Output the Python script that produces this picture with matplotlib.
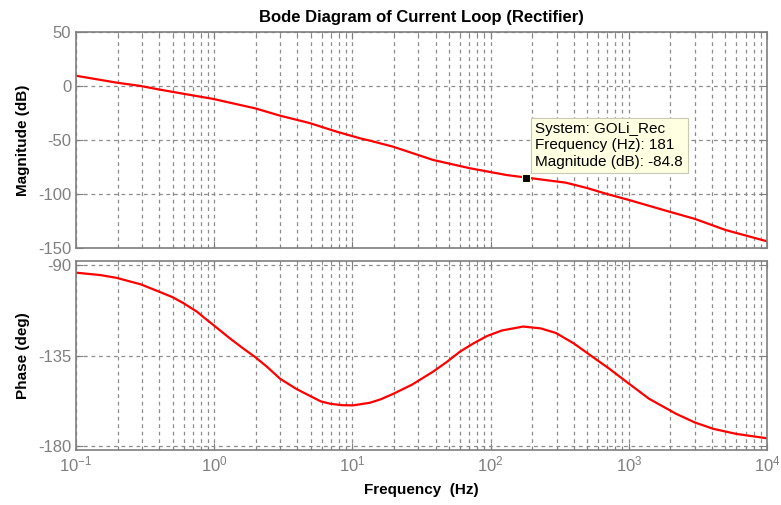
import matplotlib.pyplot as plt
from matplotlib.ticker import LogLocator, NullFormatter

plt.rcParams['font.family'] = ['Liberation Sans', 'DejaVu Sans']
plt.rcParams['mathtext.fontset'] = 'custom'
plt.rcParams['mathtext.rm'] = 'Liberation Sans'
plt.rcParams['mathtext.it'] = 'Liberation Sans:italic'
plt.rcParams['mathtext.bf'] = 'Liberation Sans:bold'
plt.rcParams['axes.unicode_minus'] = False

# values
mag_freq = [0.1, 0.197, 0.294, 0.394, 0.6, 0.985, 1.98, 3.0, 4.9, 7.7, 11.4, 13.4, 19.7,
            38.4, 71.0, 130.0, 181.0, 350.0, 500.0, 695.0, 1000.0, 1970.0, 3000.0,
            5000.0, 9600.0, 10000.0]
mag_db = [9.5, 3.1, 0.0, -3.1, -7.2, -12.0, -20.7, -27.5, -34.3, -42.3, -48.5, -50.6, -56.2,
          -68.5, -76.2, -82.4, -84.8, -89.5, -94.5, -100.0, -105.5, -116.4, -123.0,
          -133.3, -143.2, -143.5]

ph_freq = [0.1, 0.15, 0.197, 0.294, 0.394, 0.5, 0.6, 0.75, 0.85, 0.985, 1.3, 1.6, 1.98,
           2.4, 2.99, 3.9, 4.9, 5.9, 6.9, 8.4, 10.1, 13.4, 16.0, 19.7, 27.0, 38.4, 48.0,
           60.0, 75.0, 93.7, 120.0, 172.0, 230.0, 297.0, 400.0, 550.0, 720.0, 950.0,
           1400.0, 2200.0, 3000.0, 4100.0, 6000.0, 9600.0, 10000.0]
ph_deg = [-93.8, -95.0, -96.4, -99.6, -103.1, -106.0, -109.0, -113.2, -116.3, -119.8,
          -126.5, -131.2, -135.8, -140.5, -146.5, -151.5, -155.0, -157.8, -159.0, -159.7,
          -159.8, -158.5, -156.8, -154.1, -149.5, -143.0, -138.3, -133.1, -129.0, -125.4,
          -122.6, -120.6, -121.5, -123.8, -129.0, -135.8, -141.5, -147.8, -156.5, -164.0,
          -168.3, -171.5, -174.0, -176.0, -176.2]

tip_freq = 181
tip_mag = -84.8

mag_ticks = [-150, -100, -50, 0, 50]
ph_ticks = [-180, -135, -90]

fig = plt.figure(figsize=(7.81, 5.05), dpi=100)
ax1 = fig.add_axes([76 / 781, 1 - 248 / 505, 691 / 781, 216 / 505])
ax2 = fig.add_axes([76 / 781, 1 - 450 / 505, 691 / 781, 189 / 505])

grey = '#7f7f7f'
for ax in (ax1, ax2):
    ax.set_xscale('log')
    ax.set_xlim(0.1, 1e4)
    ax.xaxis.set_major_locator(LogLocator(base=10, numticks=20))
    ax.xaxis.set_minor_locator(LogLocator(base=10, subs=range(2, 10), numticks=20))
    ax.xaxis.set_minor_formatter(NullFormatter())
    ax.grid(True, which='both', axis='x', linestyle=(0, (3, 3)), color='#8c8c8c', linewidth=0.9)
    ax.grid(True, which='major', axis='y', linestyle=(0, (3, 3)), color='#8c8c8c', linewidth=0.9)
    ax.tick_params(which='both', direction='in', top=True, right=True, colors=grey,
                   labelsize=12, labelcolor=grey)
    ax.tick_params(which='major', length=5)
    ax.tick_params(which='minor', length=3)
    for s in ax.spines.values():
        s.set_color(grey)
        s.set_linewidth(1.2)

ax1.plot(mag_freq, mag_db, color='red', linewidth=1.6)
ax1.set_ylim(-150, 50)
ax1.set_yticks(mag_ticks)
ax1.set_yticklabels([str(t) for t in mag_ticks])
ax1.tick_params(axis='x', labelbottom=False)
ax1.set_ylabel('Magnitude (dB)', fontsize=11, fontweight='bold', labelpad=6)
ax1.set_title('Bode Diagram of Current Loop (Rectifier)', fontsize=12, fontweight='bold', pad=7)

# data tip
ax1.plot([tip_freq], [tip_mag], marker='s', color='black', markersize=6,
         markeredgecolor='#ffffe1', markeredgewidth=0.8, zorder=5)
ax1.annotate(f'System: GOLi_Rec\nFrequency (Hz): {tip_freq}\nMagnitude (dB): {tip_mag}',
             xy=(tip_freq, tip_mag), xytext=(9, 9), textcoords='offset pixels',
             ha='left', va='bottom', fontsize=11, linespacing=1.2,
             bbox=dict(boxstyle='square,pad=0.3', facecolor='#ffffe1', edgecolor='#c8c8b4',
                       linewidth=0.8), zorder=6)

ax2.plot(ph_freq, ph_deg, color='red', linewidth=1.6)
ax2.set_ylim(-182, -88)
ax2.set_yticks(ph_ticks)
ax2.set_yticklabels([str(t) for t in ph_ticks])
ax2.set_ylabel('Phase (deg)', fontsize=11, fontweight='bold', labelpad=6)
ax2.set_xlabel('Frequency  (Hz)', fontsize=11, fontweight='bold', labelpad=6)

fig.savefig('out.png', dpi=100)
